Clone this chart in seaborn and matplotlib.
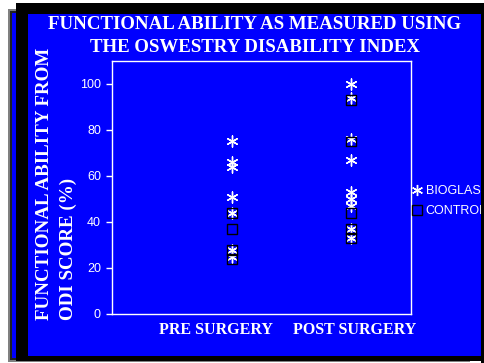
import pandas as pd
import matplotlib
matplotlib.use("Agg")
import matplotlib.pyplot as plt
from matplotlib.patches import Rectangle
from matplotlib.lines import Line2D
from matplotlib.transforms import ScaledTranslation
import seaborn as sns

# ODI functional ability scores (%) per patient
categories = ["PRE SURGERY", "POST SURGERY"]
groups = ["BIOGLASS", "CONTROL"]
pre_bioglass = [75, 66, 64, 51, 44, 28, 25]
pre_control = [44, 37, 28, 24]
post_bioglass = [100, 94, 76, 67, 53, 50, 47, 37, 33]
post_control = [93, 75, 44, 37, 33]
y_ticks = [0, 20, 40, 60, 80, 100]

rows = []
for cat, grp, vals in [
    (categories[0], groups[0], pre_bioglass),
    (categories[0], groups[1], pre_control),
    (categories[1], groups[0], post_bioglass),
    (categories[1], groups[1], post_control),
]:
    for v in vals:
        rows.append({"timepoint": cat, "group": grp, "score": v})
df = pd.DataFrame(rows)
df["pos"] = df["timepoint"].map({c: i + 1 for i, c in enumerate(categories)})

sns.set_theme(style="white")
plt.rcParams["font.family"] = ["Liberation Sans", "DejaVu Sans"]

W, H = 484, 363
BLUE = "#0000ff"
fig = plt.figure(figsize=(W / 100, H / 100), dpi=100)
fig.patch.set_facecolor("white")


def px_rect(x0, y0, x1, y1, **kw):
    r = Rectangle((x0 / W, 1 - y1 / H), (x1 - x0) / W, (y1 - y0) / H,
                  transform=fig.transFigure, **kw)
    fig.add_artist(r)
    return r


# slide frame: shadow card behind, then the main card
px_rect(8, 9, 470, 362, facecolor="#808080", edgecolor="none", zorder=-5)
px_rect(10, 11, 468, 360, facecolor="#202020", edgecolor="none", zorder=-4)
px_rect(12, 13, 466, 358, facecolor=BLUE, edgecolor="none", zorder=-3)
px_rect(16, 3, 484, 361, facecolor="black", edgecolor="none", zorder=-2)
px_rect(28, 14, 481, 356, facecolor=BLUE, edgecolor="none", zorder=-1)

ax = fig.add_axes([112 / W, 1 - 314 / H, 299 / W, 253 / H])
ax.set_facecolor(BLUE)

bio = df[df["group"] == "BIOGLASS"]
ctl = df[df["group"] == "CONTROL"]
sns.scatterplot(data=bio, x="pos", y="score", ax=ax, marker=(6, 2, 0),
                color="white", s=64, linewidth=1.0, legend=False, zorder=3)
sns.scatterplot(data=ctl, x="pos", y="score", ax=ax, marker="s",
                color="black", facecolor="none", edgecolor="black",
                s=50, linewidth=1.0, legend=False, zorder=4)

ax.set_xlim(0, 2.5)
ax.set_ylim(0, 110)
ax.set_yticks(y_ticks)
ax.set_yticklabels([str(t) for t in y_ticks], color="white", fontsize=9)
ax.set_xticks([1, 2])
ax.set_xticklabels(categories, color="white", fontsize=11.5,
                   fontfamily="Liberation Serif", fontweight="bold")
ax.tick_params(axis="y", length=4, width=1, color="white", pad=4, left=True)
ax.tick_params(axis="x", length=0, pad=6)
ax.set_xlabel("")
ax.set_ylabel("")
for sp in ax.spines.values():
    sp.set_color("white")
    sp.set_linewidth(1)
    sp.set_visible(True)

# category labels sit slightly off their marker columns
for lab, dx in zip(ax.get_xticklabels(), [-16, 3]):
    lab.set_transform(lab.get_transform() +
                      ScaledTranslation(dx / 100, 0, fig.dpi_scale_trans))

title_kw = dict(color="white", fontsize=13.6, fontfamily="Liberation Serif",
                fontweight="bold", ha="center", va="baseline")
fig.text(255 / W, 1 - 29 / H, "FUNCTIONAL ABILITY AS MEASURED USING", **title_kw)
fig.text(255 / W, 1 - 52 / H, "THE OSWESTRY DISABILITY INDEX", **title_kw)

ylab_kw = dict(color="white", fontsize=13.7, fontfamily="Liberation Serif",
               fontweight="bold", rotation=90, ha="center", va="bottom")
fig.text(45 / W, 1 - 320 / H, "FUNCTIONAL ABILITY FROM", **ylab_kw)
fig.text(68 / W, 1 - 320 / H, "ODI SCORE (%)", **ylab_kw)

handles = [
    Line2D([], [], linestyle="none", marker=(6, 2, 0), color="white",
           markersize=8, markeredgewidth=1.0),
    Line2D([], [], linestyle="none", marker="s", markerfacecolor="none",
           markeredgecolor="black", markersize=7, markeredgewidth=1.0),
]
leg = fig.legend(handles, groups, loc="upper left",
                 bbox_to_anchor=(412 / W, 1 - 185 / H), frameon=False,
                 fontsize=9, handlelength=0.8, handletextpad=0.3,
                 borderpad=0, borderaxespad=0, labelspacing=0.65)
for t in leg.get_texts():
    t.set_color("white")
leg.set_zorder(5)

# right edge of the card covers the overflowing legend text
px_rect(481, 3, 484, 363, facecolor="black", edgecolor="none", zorder=10)

fig.savefig("out.png", dpi=100, facecolor=fig.get_facecolor())
